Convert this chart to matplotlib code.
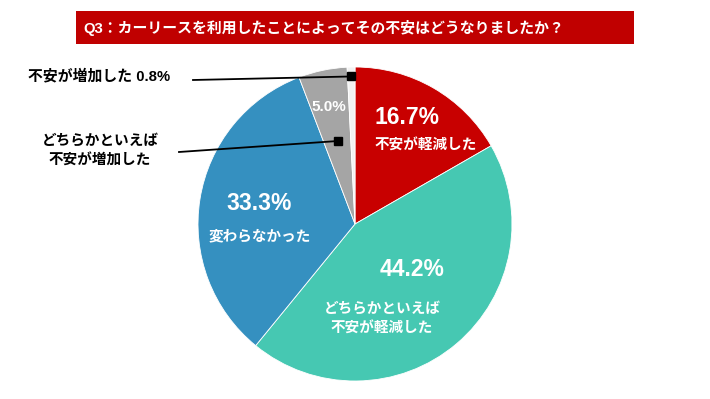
import numpy as np
import matplotlib
matplotlib.use("Agg")
import matplotlib.pyplot as plt
from matplotlib.patches import Rectangle

plt.rcParams['font.family'] = ['Liberation Sans', 'Noto Sans CJK JP', 'DejaVu Sans']

# data
title = "Q3：カーリースを利用したことによってその不安はどうなりましたか？"
labels = ["不安が軽減した", "どちらかといえば\n不安が軽減した", "変わらなかった",
          "どちらかといえば\n不安が増加した", "不安が増加した"]
values = [16.7, 44.2, 33.3, 5.0, 0.8]
colors = ["#C80000", "#46C8B2", "#3590C0", "#A5A5A5", "#F2F2F2"]

W, H = 710, 399
fig = plt.figure(figsize=(W / 100, H / 100), dpi=100)
ax = fig.add_axes([0, 0, 1, 1])

def Y(py):
    # pixel row from the top -> data y
    return H - py

cx, cy, r = 355, Y(224), 157
wedges, _ = ax.pie(values, colors=colors, startangle=90, counterclock=False,
                   center=(cx, cy), radius=r,
                   wedgeprops=dict(edgecolor="white", linewidth=0.6))

ax.set_xlim(0, W)
ax.set_ylim(0, H)
ax.set_aspect("equal")
ax.axis("off")

# title banner
ax.add_patch(Rectangle((76, Y(44)), 558, 33, facecolor="#C00000", edgecolor="none"))
ax.text(83, Y(27.5), title, color="white", fontsize=10.7, fontweight="bold",
        ha="left", va="center")

def mid_point(w, frac):
    ang = np.deg2rad((w.theta1 + w.theta2) / 2)
    return cx + frac * r * np.cos(ang), cy + frac * r * np.sin(ang)

white = dict(color="white", fontweight="bold")

# 16.7% (left aligned block)
ax.text(375, Y(118), f"{values[0]:.1f}%", fontsize=16.5, ha="left", va="center", **white)
ax.text(375, Y(146), labels[0], fontsize=10.5, ha="left", va="center", **white)

# 44.2%
ax.text(412, Y(270), f"{values[1]:.1f}%", fontsize=16.5, ha="center", va="center", **white)
ax.text(382, Y(319), labels[1], fontsize=10.5, ha="center", va="center",
        linespacing=1.55, **white)

# 33.3%
ax.text(259, Y(204), f"{values[2]:.1f}%", fontsize=16.5, ha="center", va="center", **white)
ax.text(260, Y(236), labels[2], fontsize=10.5, ha="center", va="center", **white)

# 5.0%
ax.text(329, Y(107), f"{values[3]:.1f}%", fontsize=11, ha="center", va="center", **white)

# leader lines for the small slices
px, py = mid_point(wedges[4], 0.94)
ax.plot([193, px], [Y(80), py], color="black", linewidth=1.3)
ax.plot(px, py, marker="s", markersize=5.5, color="black")
ax.text(28, Y(76), f"{labels[4]} {values[4]:.1f}%", fontsize=10.7, fontweight="bold",
        color="black", ha="left", va="center")

px, py = mid_point(wedges[3], 0.54)
ax.plot([179, px], [Y(152), py], color="black", linewidth=1.3)
ax.plot(px, py, marker="s", markersize=5.5, color="black")
ax.text(100, Y(151), labels[3], fontsize=10.5, fontweight="bold", color="black",
        ha="center", va="center", linespacing=1.55)

fig.savefig("out.png", dpi=100, facecolor="white")
